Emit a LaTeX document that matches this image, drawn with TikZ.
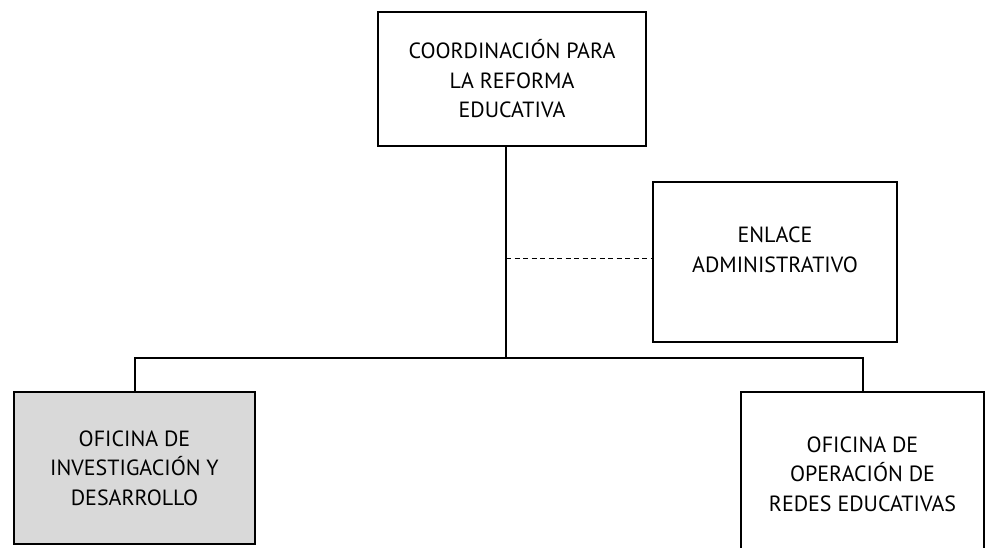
\documentclass[tikz,border=0pt]{standalone}
\usepackage{fontspec}
\setmainfont{PT Sans}
\definecolor{boxgray}{HTML}{D9D9D9}
\tikzset{
  orgbox/.style={draw=black, line width=2.4pt, rectangle, inner sep=0pt, align=center,
    font=\fontsize{22}{29.5}\selectfont},
  orgtext/.style={inner sep=0pt, align=center, font=\fontsize{22}{29.5}\selectfont},
  conn/.style={line width=2.4pt},
  dashconn/.style={line width=1pt, dash pattern=on 5pt off 3.5pt}
}
\begin{document}
\begin{tikzpicture}[x=1pt,y=-1pt]
\useasboundingbox (0,0) rectangle (991,547);
\clip (0,0) rectangle (991,547);
\node[orgbox, minimum width=268pt, minimum height=134pt] (top) at (512,79)
  {COORDINACIÓN PARA\\LA REFORMA\\EDUCATIVA};
\node[orgbox, minimum width=244pt, minimum height=160pt] (enl) at (775,262) {};
\node[orgtext] (enlt) at (775,250) {ENLACE\\ADMINISTRATIVO};
\node[orgbox, fill=boxgray, minimum width=241pt, minimum height=152pt] (inv) at (134.5,468)
  {OFICINA DE\\INVESTIGACIÓN Y\\DESARROLLO};
\node[orgbox, minimum width=243pt, minimum height=164pt] (ope) at (862.5,474)
  {OFICINA DE\\OPERACIÓN DE\\REDES EDUCATIVAS};
\coordinate (j) at (506,358);
\coordinate (d) at (506,258);
\draw[conn] (top.south -| j) -- (j);
\draw[conn, line cap=rect] ([xshift=0.5pt]inv.north |- j) -- ([xshift=0.5pt]ope.north |- j);
\draw[conn] ([xshift=0.5pt]inv.north |- j) -- ([xshift=0.5pt]inv.north);
\draw[conn] ([xshift=0.5pt]ope.north |- j) -- ([xshift=0.5pt]ope.north);
\draw[dashconn] (d) -- (enl.west |- d);
\end{tikzpicture}
\end{document}
